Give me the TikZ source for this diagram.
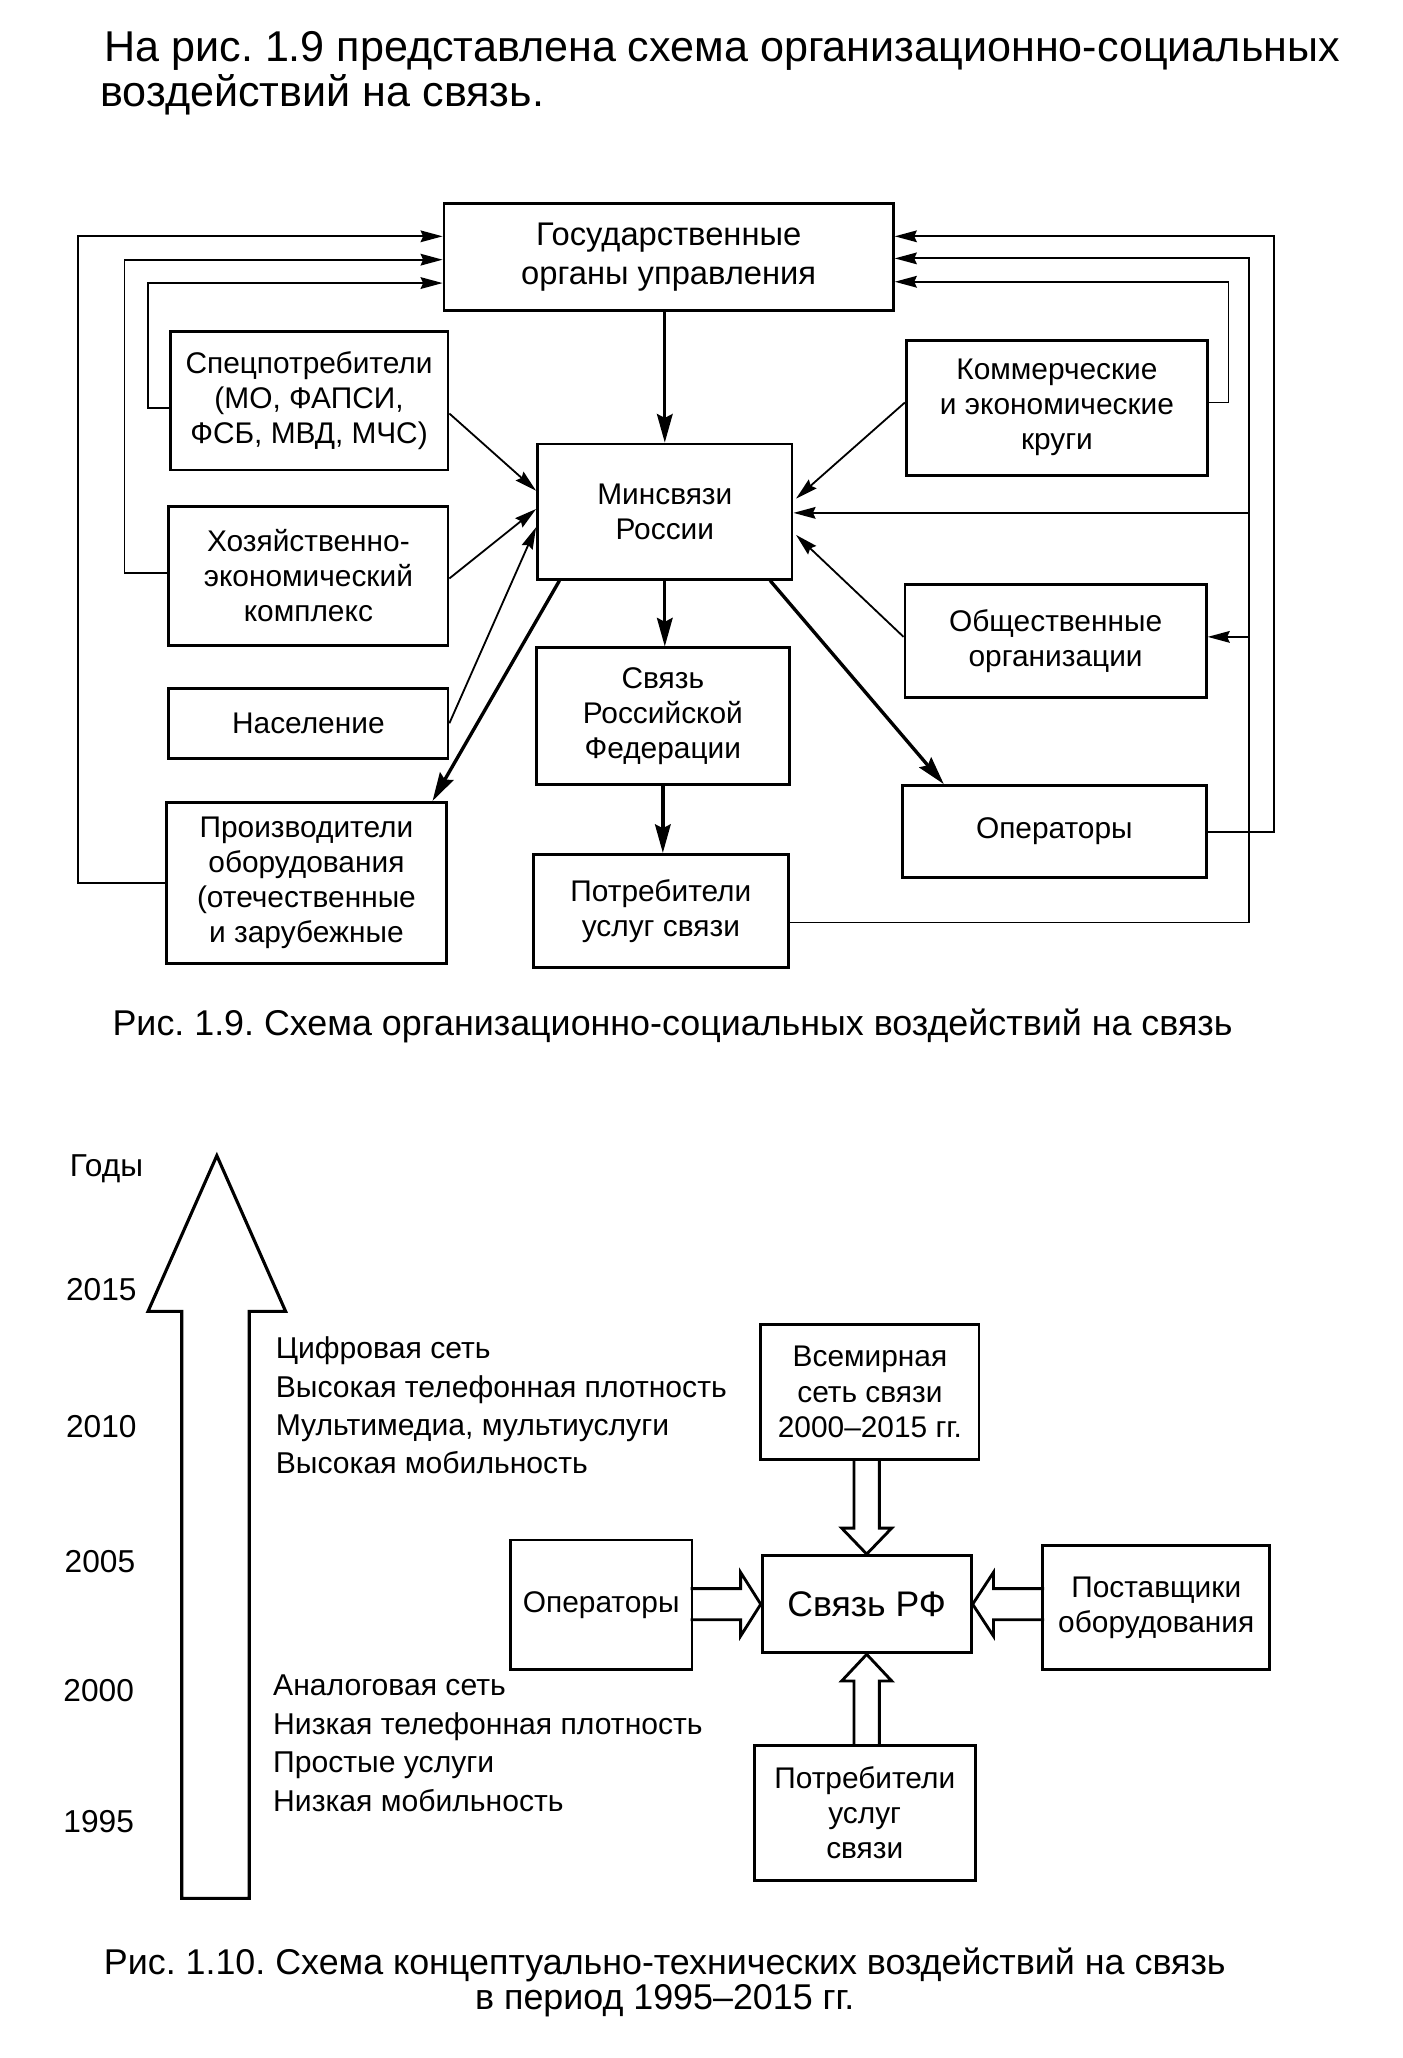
\documentclass[tikz,border=0pt]{standalone}
\usepackage{fontspec}
\setmainfont{Liberation Sans}
\usetikzlibrary{arrows.meta,calc}
\newcommand\bxf{\fontsize{11.5}{13.5}\selectfont}
\newcommand\tpf{\fontsize{16.6}{17}\selectfont}
\newcommand\cpf{\fontsize{13.8}{14}\selectfont}
\newcommand\lsf{\fontsize{11.6}{14.8}\selectfont}
\newcommand\yrf{\fontsize{12.2}{14}\selectfont}
\frenchspacing
\begin{document}
\frenchspacing
\begin{tikzpicture}[x=0.5pt,y=-0.5pt,
  box/.style={draw,line width=1.1pt,align=center,inner sep=0pt,font=\bxf},
  thinc/.style={line width=0.7pt},
  thk/.style={line width=1.3pt},
  ta/.style={-{Stealth[length=8.5pt,width=4.5pt,inset=1pt]}},
  tka/.style={-{Stealth[length=11pt,width=6pt,inset=1.5pt]}},
  blk/.style={line width=1.1pt,line join=miter},
  lbl/.style={inner sep=0pt}]
\fill[white] (0,0) rectangle (1080,1585);
\useasboundingbox (0,0) rectangle (1080,1585);

% ---------- top text
\node[lbl,anchor=base west,font=\tpf] (t1) at (80,47) {На рис. 1.9 представлена схема организационно-социальных};
\node[lbl,anchor=base west,font=\tpf] (t2) at (77,82) {воздействий на связь.};

% ---------- figure 1.9 boxes
\node[box,minimum width=173pt,minimum height=41pt,font=\fontsize{12.6}{15}\selectfont] (gov) at (515,198) {Государственные\\органы управления};
\node[box,minimum width=107pt,minimum height=53.5pt] (spec) at (238,308.5) {Спецпотребители\\(МО, ФАПСИ,\\ФСБ, МВД, МЧС)};
\node[box,minimum width=107.5pt,minimum height=53.5pt] (hoz) at (237.5,443.5) {Хозяйственно-\\экономический\\комплекс};
\node[box,minimum width=107.5pt,minimum height=27pt] (nas) at (237.5,557) {Население};
\node[box,minimum width=108pt,minimum height=62pt] (proizv) at (236,680) {Производители\\оборудования\\(отечественные\\и зарубежные};
\node[box,minimum width=98pt,minimum height=52pt] (min) at (512,394) {Минсвязи\\России};
\node[box,minimum width=97.5pt,minimum height=52.5pt] (svrf) at (510.5,551.5) {Связь\\Российской\\Федерации};
\node[box,minimum width=98pt,minimum height=43.5pt] (potr) at (509,701.5) {Потребители\\услуг связи};
\node[box,minimum width=116pt,minimum height=52pt] (komm) at (814,314) {Коммерческие\\и экономические\\круги};
\node[box,minimum width=116pt,minimum height=43.5pt] (obsh) at (813,493.5) {Общественные\\организации};
\node[box,minimum width=117pt,minimum height=35.5pt] (oper) at (812,640.5) {Операторы};

% ---------- feedback loops to government bodies
\draw[thinc,ta] (proizv.west) -- ++(-67,0) |- ($(gov.west)+(0,-16)$);
\draw[thinc,ta] ($(hoz.west)+(0,-2)$) -- ++(-33,0) |- ($(gov.west)+(0,2)$);
\draw[thinc,ta] ($(spec.west)+(0,6)$) -- ++(-16,0) |- ($(gov.west)+(0,20)$);
\draw[thinc,ta] (oper.east) -- ++(51,0) |- ($(gov.east)+(0,-16)$);
\draw[thinc,ta] ($(komm.east)+(0,-4)$) -- ++(15,0) |- ($(gov.east)+(0,19)$);
\coordinate (rv) at ($(potr.east)+(354,9)$);
\draw[thinc,ta] ($(potr.east)+(0,9)$) -- (rv) |- ($(gov.east)+(0,1)$);
\draw[thinc,ta] ($(rv|-min.east)+(0,1)$) -- ($(min.east)+(0,1)$);
\draw[thinc,ta] ($(rv|-obsh.east)+(0,-3)$) -- ($(obsh.east)+(0,-3)$);

% ---------- arrows around the ministry
\draw[thk,tka] (gov.south -| min.north) -- (min.north);
\draw[thk,tka] (min.south) -- (min.south |- svrf.north);
\draw[thk,tka] (svrf.south) -- (svrf.south |- potr.north);
\draw[thinc,ta] ($(spec.east)+(0,10)$) -- ($(min.west)+(0,-16)$);
\draw[thinc,ta] ($(hoz.east)+(0,2)$) -- ($(min.west)+(0,-2)$);
\draw[thinc,ta] (nas.east) -- ($(min.west)+(0,12)$);
\draw[thk,tka] ($(min.south west)+(18,0)$) -- ($(proizv.north east)+(-12,0)$);
\draw[thk,tka] ($(min.south east)+(-18,0)$) -- ($(oper.north west)+(33,0)$);
\draw[thinc,ta] ($(komm.west)+(0,-4)$) -- ($(min.east)+(2,-10)$);
\draw[thinc,ta] ($(obsh.west)+(0,-3)$) -- ($(min.east)+(2,18)$);

\node[lbl,font=\cpf] (cap1) at (518,790) {Рис. 1.9. Схема организационно-социальных воздействий на связь};

% ---------- figure 1.10
\draw[line width=1.2pt,line join=miter] (140,1462) -- (140,1010) -- (114,1010) -- (167,890) -- (220,1010) -- (192,1010) -- (192,1462) -- cycle;
\node[lbl,font=\yrf] (yg) at (82,900) {Годы};
\node[lbl,font=\yrf] (y15) at (78,993) {2015};
\node[lbl,font=\yrf] (y10) at (78,1099) {2010};
\node[lbl,font=\yrf] (y05) at (77,1203) {2005};
\node[lbl,font=\yrf] (y00) at (76,1302) {2000};
\node[lbl,font=\yrf] (y95) at (76,1403) {1995};
\node[lbl,font=\lsf,anchor=west,align=left] (hi) at (212,1082.5) {Цифровая сеть\\Высокая телефонная плотность\\Мультимедиа, мультиуслуги\\Высокая мобильность};
\node[lbl,font=\lsf,anchor=west,align=left] (lo) at (210,1342.5) {Аналоговая сеть\\Низкая телефонная плотность\\Простые услуги\\Низкая мобильность};

\node[box,minimum width=84pt,minimum height=52pt] (vsem) at (670,1072) {Всемирная\\сеть связи\\2000--2015 гг.};
\node[box,minimum width=80.5pt,minimum height=37.5pt,font=\fontsize{13.7}{16}\selectfont] (srf) at (667.5,1235.5) {Связь РФ};
\node[box,minimum width=70pt,minimum height=50pt] (op2) at (463,1236) {Операторы};
\node[box,minimum width=87.5pt,minimum height=48pt] (post) at (890.5,1238) {Поставщики\\оборудования};
\node[box,minimum width=85pt,minimum height=52pt] (pt2) at (666,1396) {Потребители\\услуг\\связи};

% hollow block arrows
\draw[blk] ($(srf.north)+(-9.75,-74)$) -- ($(srf.north)+(-9.75,-20)$) -- ($(srf.north)+(-19.25,-20)$) -- (srf.north) -- ($(srf.north)+(19.25,-20)$) -- ($(srf.north)+(9.75,-20)$) -- ($(srf.north)+(9.75,-74)$);
\draw[blk] ($(srf.south)+(-9.75,71)$) -- ($(srf.south)+(-9.75,20.5)$) -- ($(srf.south)+(-19.25,20.5)$) -- (srf.south) -- ($(srf.south)+(19.25,20.5)$) -- ($(srf.south)+(9.75,20.5)$) -- ($(srf.south)+(9.75,71)$);
\draw[blk] ($(srf.west)+(-54,-12)$) -- ($(srf.west)+(-15.5,-12)$) -- ($(srf.west)+(-15.5,-24.5)$) -- (srf.west) -- ($(srf.west)+(-15.5,24.5)$) -- ($(srf.west)+(-15.5,12)$) -- ($(srf.west)+(-54,12)$);
\draw[blk] ($(srf.east)+(55,-12)$) -- ($(srf.east)+(16,-12)$) -- ($(srf.east)+(16,-24.5)$) -- (srf.east) -- ($(srf.east)+(16,24.5)$) -- ($(srf.east)+(16,12)$) -- ($(srf.east)+(55,12)$);

\node[lbl,font=\cpf] (cap2) at (512,1513) {Рис. 1.10. Схема концептуально-технических воздействий на связь};
\node[lbl,font=\cpf] (cap3) at (512,1541) {в период 1995--2015 гг.};
\end{tikzpicture}
\end{document}
